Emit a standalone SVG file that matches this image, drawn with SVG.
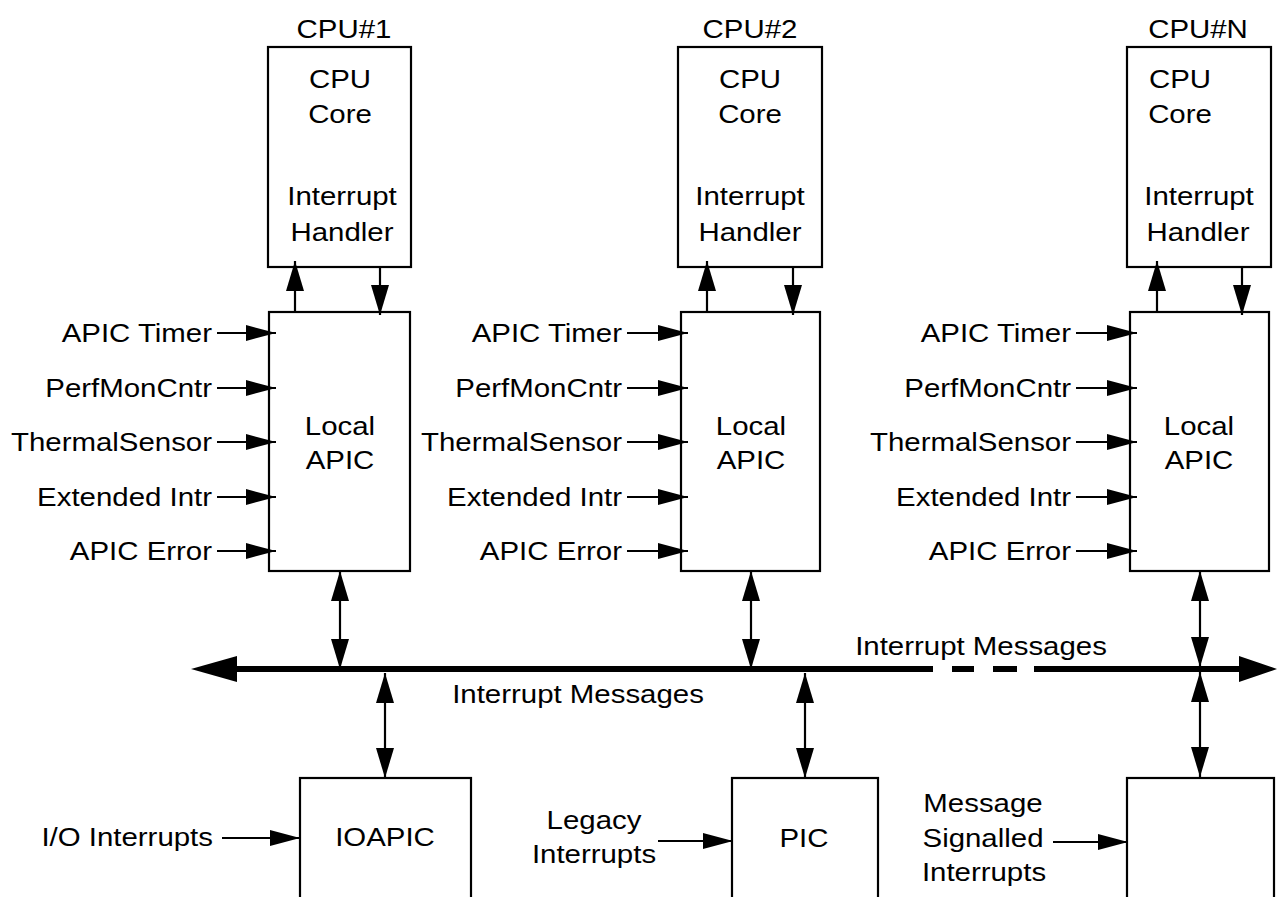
<svg xmlns="http://www.w3.org/2000/svg" width="1277" height="897" viewBox="0 0 1277 897">
<style>
  .box { fill: #fff; stroke: #000; stroke-width: 2.2; }
  .t { font-family: "Liberation Sans", Arial, sans-serif; font-size: 26.5px; fill: #000; }
  .m { text-anchor: middle; }
  .e { text-anchor: end; }
  .c { stroke: #000; stroke-width: 2.2; fill: none; }
  .cv { marker-end: url(#ah); }
  .cb { marker-start: url(#ah); marker-end: url(#ah); }
  .ci { marker-end: url(#ih); }
  .bus { stroke: #000; stroke-width: 6; fill: none; }
</style>
<defs>
  <marker id="ah" markerUnits="userSpaceOnUse" markerWidth="30" markerHeight="18" refX="30" refY="9" orient="auto-start-reverse" viewBox="0 0 30 18">
    <path d="M0,0 L30,9 L0,18 z" fill="#000"/>
  </marker>
  <marker id="ih" markerUnits="userSpaceOnUse" markerWidth="30" markerHeight="16" refX="30" refY="8" orient="auto" viewBox="0 0 30 16">
    <path d="M0,0 L30,8 L0,16 z" fill="#000"/>
  </marker>
</defs>

<g id="cpu1">
  <rect class="box" x="268" y="47" width="143" height="220"/>
  <text class="t m" transform="translate(344 38) scale(1.11 1)">CPU#1</text>
  <text class="t m" transform="translate(340 88) scale(1.11 1)">CPU</text>
  <text class="t m" transform="translate(340 123) scale(1.11 1)">Core</text>
  <text class="t m" transform="translate(342 205) scale(1.11 1)">Interrupt</text>
  <text class="t m" transform="translate(342 241) scale(1.11 1)">Handler</text>
</g>
<g id="cpu2">
  <rect class="box" x="678" y="47" width="144" height="220"/>
  <text class="t m" transform="translate(750 38) scale(1.11 1)">CPU#2</text>
  <text class="t m" transform="translate(750 88) scale(1.11 1)">CPU</text>
  <text class="t m" transform="translate(750 123) scale(1.11 1)">Core</text>
  <text class="t m" transform="translate(750 205) scale(1.11 1)">Interrupt</text>
  <text class="t m" transform="translate(750 241) scale(1.11 1)">Handler</text>
</g>
<g id="cpuN">
  <rect class="box" x="1127" y="47" width="144" height="220"/>
  <text class="t m" transform="translate(1198 38) scale(1.11 1)">CPU#N</text>
  <text class="t m" transform="translate(1180 88) scale(1.11 1)">CPU</text>
  <text class="t m" transform="translate(1180 123) scale(1.11 1)">Core</text>
  <text class="t m" transform="translate(1199 205) scale(1.11 1)">Interrupt</text>
  <text class="t m" transform="translate(1198 241) scale(1.11 1)">Handler</text>
</g>

<g id="lapic1">
  <rect class="box" x="269" y="312" width="141" height="259"/>
  <text class="t m" transform="translate(340 435) scale(1.11 1)">Local</text>
  <text class="t m" transform="translate(340 469) scale(1.11 1)">APIC</text>
</g>
<g id="lapic2">
  <rect class="box" x="681" y="312" width="139" height="259"/>
  <text class="t m" transform="translate(751 435) scale(1.11 1)">Local</text>
  <text class="t m" transform="translate(751 469) scale(1.11 1)">APIC</text>
</g>
<g id="lapicN">
  <rect class="box" x="1130" y="312" width="139" height="259"/>
  <text class="t m" transform="translate(1199 435) scale(1.11 1)">Local</text>
  <text class="t m" transform="translate(1199 469) scale(1.11 1)">APIC</text>
</g>

<g id="inputs1">
  <text class="t e" transform="translate(212 342) scale(1.11 1)">APIC Timer</text>
  <text class="t e" transform="translate(212 397) scale(1.11 1)">PerfMonCntr</text>
  <text class="t e" transform="translate(212 451) scale(1.11 1)">ThermalSensor</text>
  <text class="t e" transform="translate(212 506) scale(1.11 1)">Extended Intr</text>
  <text class="t e" transform="translate(212 560) scale(1.11 1)">APIC Error</text>
</g>
<g id="inputs2">
  <text class="t e" transform="translate(622 342) scale(1.11 1)">APIC Timer</text>
  <text class="t e" transform="translate(622 397) scale(1.11 1)">PerfMonCntr</text>
  <text class="t e" transform="translate(622 451) scale(1.11 1)">ThermalSensor</text>
  <text class="t e" transform="translate(622 506) scale(1.11 1)">Extended Intr</text>
  <text class="t e" transform="translate(622 560) scale(1.11 1)">APIC Error</text>
</g>
<g id="inputsN">
  <text class="t e" transform="translate(1071 342) scale(1.11 1)">APIC Timer</text>
  <text class="t e" transform="translate(1071 397) scale(1.11 1)">PerfMonCntr</text>
  <text class="t e" transform="translate(1071 451) scale(1.11 1)">ThermalSensor</text>
  <text class="t e" transform="translate(1071 506) scale(1.11 1)">Extended Intr</text>
  <text class="t e" transform="translate(1071 560) scale(1.11 1)">APIC Error</text>
</g>

<g id="ioapic">
  <rect class="box" x="300" y="778" width="171" height="140"/>
  <text class="t m" transform="translate(385 846) scale(1.11 1)">IOAPIC</text>
</g>
<g id="pic">
  <rect class="box" x="732" y="778" width="146" height="140"/>
  <text class="t m" transform="translate(804 847) scale(1.11 1)">PIC</text>
</g>
<g id="msidev">
  <rect class="box" x="1127" y="778" width="147" height="140"/>
</g>

<g id="bottom-labels">
  <text class="t e" transform="translate(213 846) scale(1.11 1)">I/O Interrupts</text>
  <text class="t m" transform="translate(594 829) scale(1.11 1)">Legacy</text>
  <text class="t m" transform="translate(594 863) scale(1.11 1)">Interrupts</text>
  <text class="t m" transform="translate(983 812) scale(1.11 1)">Message</text>
  <text class="t m" transform="translate(983 847) scale(1.11 1)">Signalled</text>
  <text class="t m" transform="translate(984 881) scale(1.11 1)">Interrupts</text>
</g>

<g id="bus">
  <path class="bus" d="M236,669 H933 M952,669 H974 M993,669 H1017 M1034,669 H1241"/>
  <polygon points="191,669 237,656 237,682" fill="#000"/>
  <polygon points="1277,669 1239,656 1239,682" fill="#000"/>
  <text class="t m" transform="translate(981 655) scale(1.11 1)">Interrupt Messages</text>
  <text class="t m" transform="translate(578 703) scale(1.11 1)">Interrupt Messages</text>
</g>

<g id="connectors">
  <line class="c cv" x1="295" y1="312" x2="295" y2="261"/>
  <line class="c cv" x1="380" y1="267" x2="380" y2="315"/>
  <line class="c cv" x1="707" y1="312" x2="707" y2="261"/>
  <line class="c cv" x1="793" y1="267" x2="793" y2="315"/>
  <line class="c cv" x1="1157" y1="312" x2="1157" y2="261"/>
  <line class="c cv" x1="1242" y1="267" x2="1242" y2="315"/>

  <line class="c cb" x1="340" y1="571" x2="340" y2="669"/>
  <line class="c cb" x1="751" y1="571" x2="751" y2="669"/>
  <line class="c cb" x1="1200" y1="571" x2="1200" y2="667"/>
  <line class="c cb" x1="385" y1="673" x2="385" y2="778"/>
  <line class="c cb" x1="805" y1="673" x2="805" y2="778"/>
  <line class="c cb" x1="1200" y1="672" x2="1200" y2="777"/>

  <line class="c ci" x1="217" y1="333" x2="276" y2="333"/>
  <line class="c ci" x1="217" y1="388" x2="276" y2="388"/>
  <line class="c ci" x1="217" y1="442" x2="276" y2="442"/>
  <line class="c ci" x1="217" y1="497" x2="276" y2="497"/>
  <line class="c ci" x1="217" y1="551" x2="276" y2="551"/>

  <line class="c ci" x1="627" y1="333" x2="688" y2="333"/>
  <line class="c ci" x1="627" y1="388" x2="688" y2="388"/>
  <line class="c ci" x1="627" y1="442" x2="688" y2="442"/>
  <line class="c ci" x1="627" y1="497" x2="688" y2="497"/>
  <line class="c ci" x1="627" y1="551" x2="688" y2="551"/>

  <line class="c ci" x1="1076" y1="333" x2="1137" y2="333"/>
  <line class="c ci" x1="1076" y1="388" x2="1137" y2="388"/>
  <line class="c ci" x1="1076" y1="442" x2="1137" y2="442"/>
  <line class="c ci" x1="1076" y1="497" x2="1137" y2="497"/>
  <line class="c ci" x1="1076" y1="551" x2="1137" y2="551"/>

  <line class="c ci" x1="222" y1="838" x2="300" y2="838"/>
  <line class="c ci" x1="658" y1="841" x2="733" y2="841"/>
  <line class="c ci" x1="1053" y1="842" x2="1128" y2="842"/>
</g>
</svg>
